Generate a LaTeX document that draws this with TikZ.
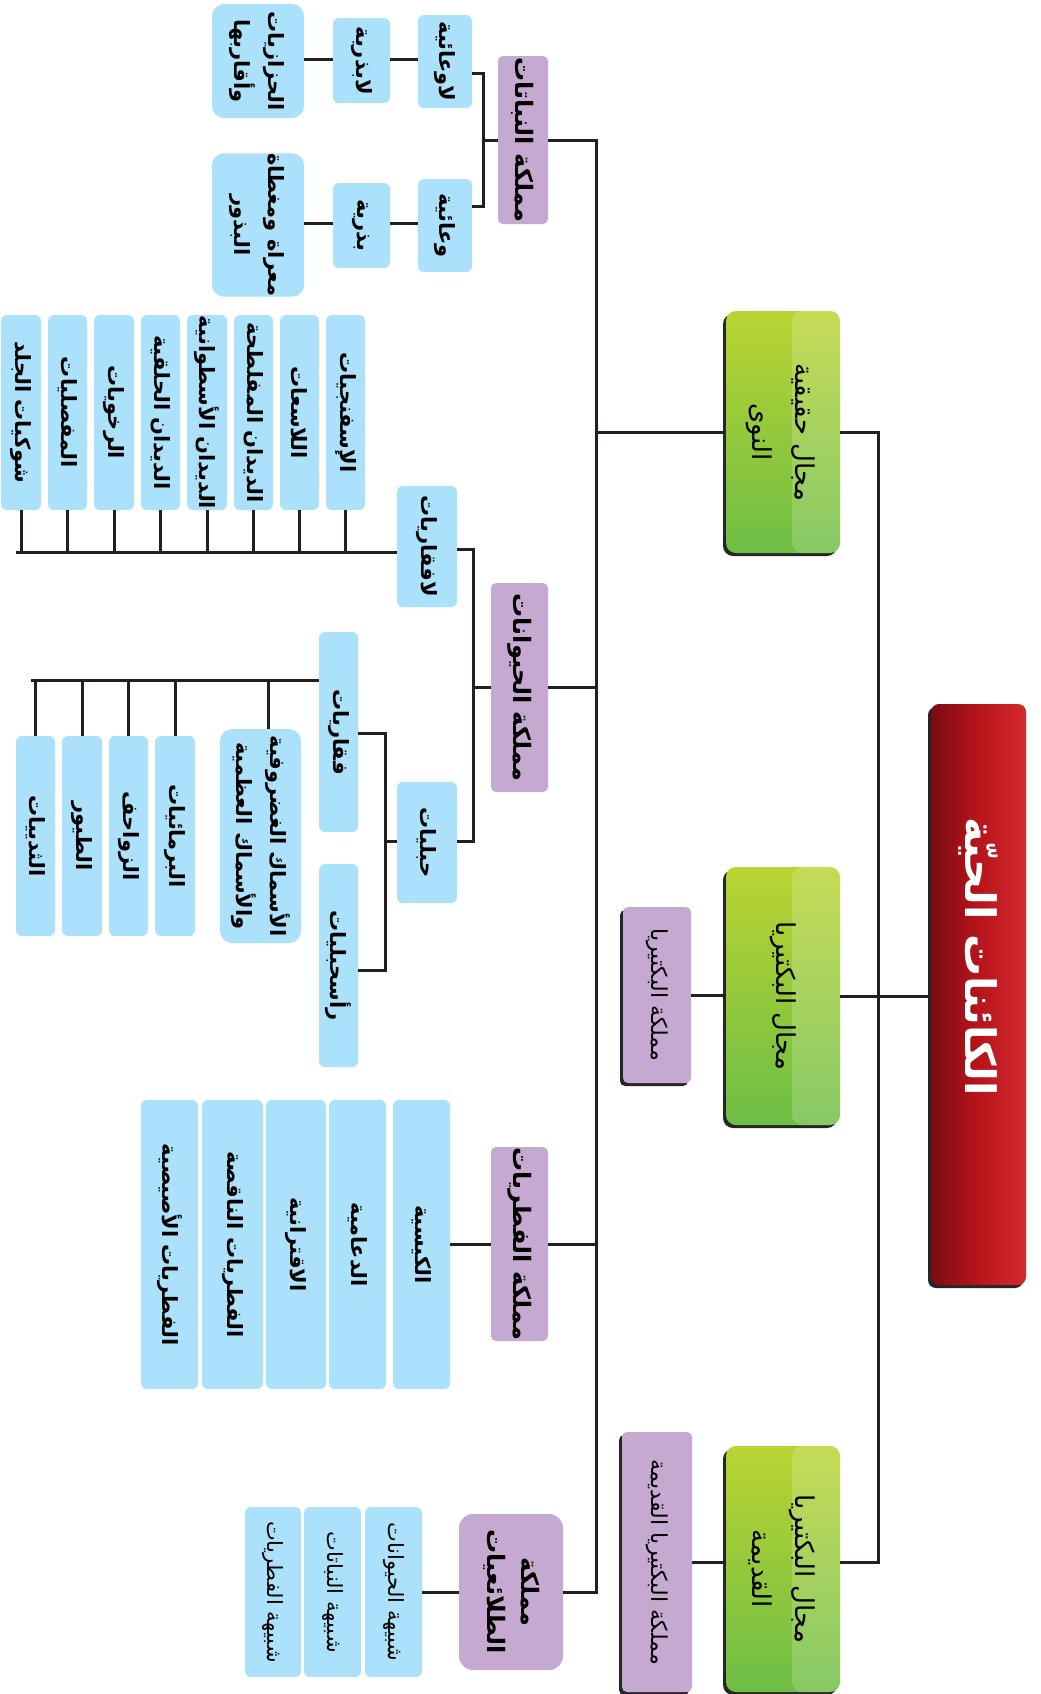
\documentclass[tikz,border=0pt]{standalone}
\usepackage{fontspec}
\usepackage{graphicx}
\newfontfamily\arabicfont[Script=Arabic]{DejaVu Sans}
\TeXXeTstate=1
\usetikzlibrary{shadows,calc}
\definecolor{lc}{HTML}{231F20}
\definecolor{bluec}{HTML}{ABE1FA}
\definecolor{purc}{HTML}{C5A9D0}
\definecolor{gTop}{HTML}{BAD432}
\definecolor{gBot}{HTML}{6DBE45}
\definecolor{rL}{HTML}{7A0D12}
\definecolor{rM}{HTML}{B8141B}
\definecolor{rR}{HTML}{D42A2F}
\newcommand\rtx[1]{\rotatebox{-90}{#1}}
\newcommand\rty[2]{\rotatebox{-90}{\begin{tabular}{@{}c@{}}#1\\#2\end{tabular}}}
\newcommand\bx[7]{\node[#6,minimum width={(#4-#2)*0.5pt},minimum height={(#5-#3)*0.5pt}] (#1) at ({(#2+#4)/2},{(#3+#5)/2}) {#7};}
\tikzset{
  ln/.style={line width=1.5pt,draw=lc},
  shd/.style={drop shadow={shadow xshift=-1.5pt,shadow yshift=-1.5pt,fill=black!85,opacity=1}},
  bl/.style={fill=bluec,draw=none,rounded corners=3pt,inner sep=0pt,outer sep=0pt,font=\arabicfont\bfseries\fontsize{10.5}{17}\selectfont},
  blr/.style={bl,font=\arabicfont\fontsize{10.5}{17}\selectfont},
  pu/.style={fill=purc,draw=none,rounded corners=2.5pt,inner sep=0pt,outer sep=0pt,font=\arabicfont\bfseries\fontsize{12}{17}\selectfont},
  pus/.style={pu,shd,font=\arabicfont\fontsize{11}{14}\selectfont},
  gr/.style={top color=gTop,bottom color=gBot,draw=none,rounded corners=5pt,inner sep=0pt,outer sep=0pt,shd,
    font=\arabicfont\fontsize{13}{21.5}\selectfont,
    path picture={\fill[white,opacity=0.18] ($(path picture bounding box.north west)!0.58!(path picture bounding box.north east)$) rectangle (path picture bounding box.south east);}},
  ti/.style={left color=rL,right color=rR,middle color=rM,draw=none,rounded corners=4pt,inner sep=0pt,outer sep=0pt,shd,text=white,
    font=\arabicfont\bfseries\fontsize{21}{24}\selectfont}
}
\begin{document}
\begin{tikzpicture}[x=0.5pt,y=-0.5pt]
\useasboundingbox (0,0) rectangle (1040,1694);
\fill[white] (0,0) rectangle (1040,1694);
% title and domains
\bx{T}{931}{704}{1026}{1285}{ti}{\rotatebox{-90}{\beginR الكائنات الحيّة\endR\hspace{38pt}}}
\bx{G1}{726}{311}{840}{553}{gr}{\rty{\beginR مجال حقيقية\endR}{\beginR النوى\endR}}
\bx{G2}{726}{867}{840}{1125}{gr}{\rtx{\beginR مجال البكتيريا\endR}}
\bx{G3}{726}{1446}{840}{1692}{gr}{\rty{\beginR مجال البكتيريا\endR}{\beginR القديمة\endR}}
\bx{Pbac}{623}{907}{691}{1083}{pus}{\rtx{\beginR مملكة البكتيريا\endR}}
\bx{Parch}{622}{1432}{692}{1692}{pus}{\rtx{\beginR مملكة البكتيريا القديمة\endR}}
% kingdoms
\bx{Ppl}{498}{56}{548}{224}{pu}{\rtx{\beginR مملكة النباتات\endR}}
\bx{Pan}{491}{583}{548}{792}{pu}{\rtx{\beginR مملكة الحيوانات\endR}}
\bx{Pfu}{491}{1147}{548}{1341}{pu}{\rtx{\beginR مملكة الفطريات\endR}}
\bx{Ppr}{459}{1514}{563}{1670}{pu,rounded corners=7pt}{\rty{\beginR مملكة\endR}{\beginR الطلائعيات\endR}}
% plants
\bx{pl1}{418}{15}{472}{108}{bl}{\rtx{\beginR لاوعائية\endR}}
\bx{pl2}{333}{18}{390}{103}{bl}{\rtx{\beginR لابذرية\endR}}
\bx{pl3}{212}{4}{304}{118}{bl,rounded corners=6pt}{\rty{\beginR الحزازيات\endR}{\beginR وأقاربها\endR}}
\bx{pb1}{418}{179}{472}{272}{bl}{\rtx{\beginR وعائية\endR}}
\bx{pb2}{333}{183}{390}{268}{bl}{\rtx{\beginR بذرية\endR}}
\bx{pb3}{212}{168}{304}{282}{bl,rounded corners=6pt}{\rty{\beginR معراة ومغطاة\endR}{\beginR البذور\endR}}
% animals
\bx{inv}{397}{486}{457}{607}{bl}{\rtx{\beginR لافقاريات\endR}}
\bx{chd}{397}{782}{457}{903}{bl}{\rtx{\beginR حبليات\endR}}
\bx{i1}{326}{315}{365}{510}{bl}{\rtx{\beginR الإسفنجيات\endR}}
\bx{i2}{280}{315}{319}{510}{bl}{\rtx{\beginR اللاسعات\endR}}
\bx{i3}{234}{315}{273}{510}{bl}{\rtx{\beginR الديدان المفلطحة\endR}}
\bx{i4}{187}{315}{227}{510}{bl}{\rtx{\beginR الديدان الأسطوانية\endR}}
\bx{i5}{141}{315}{180}{510}{bl}{\rtx{\beginR الديدان الحلقية\endR}}
\bx{i6}{94}{315}{134}{510}{bl}{\rtx{\beginR الرخويات\endR}}
\bx{i7}{48}{315}{87}{510}{bl}{\rtx{\beginR المفصليات\endR}}
\bx{i8}{1}{315}{41}{510}{bl}{\rtx{\beginR شوكيات الجلد\endR}}
\bx{vt}{319}{632}{358}{832}{bl}{\rtx{\beginR فقاريات\endR}}
\bx{ct}{319}{864}{358}{1067}{bl}{\rtx{\beginR رأسحبليات\endR}}
\bx{v1}{220}{729}{301}{943}{bl,rounded corners=6pt}{\rty{\beginR الأسماك الغضروفية\endR}{\beginR والأسماك العظمية\endR}}
\bx{v2}{155}{736}{195}{936}{bl}{\rtx{\beginR البرمائيات\endR}}
\bx{v3}{109}{736}{148}{936}{bl}{\rtx{\beginR الزواحف\endR}}
\bx{v4}{62}{736}{102}{936}{bl}{\rtx{\beginR الطيور\endR}}
\bx{v5}{16}{736}{55}{936}{bl}{\rtx{\beginR الثدييات\endR}}
% fungi
\bx{f1}{393}{1100}{450}{1389}{bl}{\rtx{\beginR الكيسية\endR}}
\bx{f2}{329}{1100}{386}{1389}{bl}{\rtx{\beginR الدعامية\endR}}
\bx{f3}{266}{1100}{326}{1389}{bl}{\rtx{\beginR الاقترانية\endR}}
\bx{f4}{202}{1100}{263}{1389}{bl}{\rtx{\beginR الفطريات الناقصة\endR}}
\bx{f5}{141}{1100}{198}{1389}{bl}{\rtx{\beginR الفطريات الأصيصية\endR}}
% protists
\bx{pr1}{365}{1507}{422}{1677}{blr}{\rtx{\beginR شبيهة الحيوانات\endR}}
\bx{pr2}{304}{1507}{361}{1677}{blr}{\rtx{\beginR شبيهة النباتات\endR}}
\bx{pr3}{245}{1507}{301}{1677}{blr}{\rtx{\beginR شبيهة الفطريات\endR}}
% connectors: right side
\coordinate (rv) at (878,0);
\draw[ln] (G1.east) -- (G1.east -| rv) -- (rv |- Parch.east) -- (G3.east |- Parch.east);
\draw[ln] (G2.east) -- (T.west |- G2.east);
\draw[ln] (Pbac.east) -- (G2.west |- Pbac.east);
\draw[ln] (Parch.east) -- (G3.west |- Parch.east);
% trunk
\coordinate (tr) at (596,0);
\draw[ln] (G1.west) -- (G1.west -| tr);
\draw[ln] (Ppl.east) -- (Ppl.east -| tr) -- (tr |- Ppr.east) -- (Ppr.east);
\draw[ln] (Pan.east) -- (Pan.east -| tr);
\draw[ln] (Pfu.east) -- (Pfu.east -| tr);
% plants
\coordinate (jp) at (483,0);
\draw[ln] (Ppl.west) -- (Ppl.west -| jp);
\draw[ln] (pl1.east |- 0,73) -- (jp |- 0,73) -- (jp |- 0,206) -- (pb1.east |- 0,206);
\draw[ln] (pl1.west |- 0,59) -- (pl2.east |- 0,59);
\draw[ln] (pl2.west |- 0,59) -- (pl3.east |- 0,59);
\draw[ln] (pb1.west |- 0,223) -- (pb2.east |- 0,223);
\draw[ln] (pb2.west |- 0,223) -- (pb3.east |- 0,223);
% animals
\coordinate (ja) at (473,0);
\draw[ln] (Pan.west) -- (Pan.west -| ja);
\draw[ln] (inv.east |- 0,549) -- (ja |- 0,549) -- (ja |- 0,841) -- (chd.east |- 0,841);
\coordinate (bi) at (16,552);
\draw[ln] (inv.west |- bi) -- (bi);
\foreach \n in {i1,i2,i3,i4,i5,i6,i7,i8} \draw[ln] (\n.south) -- (\n.south |- bi);
\coordinate (jc) at (385,0);
\draw[ln] (chd.west |- 0,841) -- (jc |- 0,841);
\draw[ln] (vt.east |- 0,733) -- (jc |- 0,733) -- (jc |- 0,970) -- (ct.east |- 0,970);
\coordinate (bv) at (31,680);
\draw[ln] (vt.west |- bv) -- (bv);
\foreach \n in {v2,v3,v4,v5} \draw[ln] (\n.north) -- (\n.north |- bv);
\draw[ln] (v1.north -| 268,0) -- (bv -| 268,0);
% fungi and protists
\draw[ln] (Pfu.west) -- (f1.east |- Pfu.west);
\draw[ln] (Ppr.west) -- (pr1.east |- Ppr.west);
\end{tikzpicture}
\end{document}
